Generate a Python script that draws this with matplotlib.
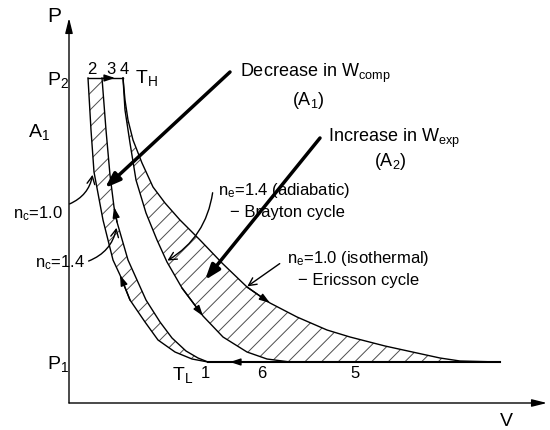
import numpy as np
import matplotlib.pyplot as plt
from matplotlib.patches import Polygon, FancyArrowPatch

plt.rcParams['font.family'] = ['Liberation Sans', 'DejaVu Sans']
plt.rcParams['mathtext.default'] = 'regular'
plt.rcParams['hatch.linewidth'] = 0.7

# pressures and volumes (origin at the axis corner)
P_low, P_high = 41, 325
V1, V2, V3, V4, V6, V5 = 139, 19, 33, 54, 221, 431

# compression, listed from the top (P2) down to point 1
comp_iso_V = [19, 22, 25, 34, 44, 51, 61, 76, 89, 106, 123, 139]
comp_iso_P = [325, 273, 231, 183, 143, 128, 103, 81, 63, 51, 44, 41]
comp_adi_V = [33, 37, 41, 45, 48, 59, 77, 91, 103, 117, 129, 139]
comp_adi_P = [325, 273, 228, 196, 181, 143, 103, 81, 65, 52, 45, 41]

# expansion from point 4 down to P1
exp_adi_V = [54, 56, 61, 67, 77, 88, 98, 113, 134, 154, 178, 198, 221]
exp_adi_P = [325, 293, 260, 223, 190, 163, 141, 115, 87, 66, 51, 44, 41]
exp_iso_V = [54, 56, 59, 64, 73, 84, 96, 111, 131, 153, 178, 201, 228, 258, 281, 316, 348, 371, 391, 431]
exp_iso_P = [325, 303, 283, 263, 240, 216, 200, 183, 163, 140, 116, 100, 86, 73, 66, 57, 50, 45, 42, 41]

fig = plt.figure(figsize=(5.5, 4.3), dpi=100)
ax = fig.add_axes([0, 0, 1, 1])
ax.set_xlim(-69, 481)
ax.set_ylim(-27, 403)
ax.axis('off')

# axes with arrows
ax.annotate('', xy=(0, 385), xytext=(0, 0),
            arrowprops=dict(arrowstyle='-|>,head_length=0.6,head_width=0.15', lw=1, color='k',
                            mutation_scale=15, shrinkA=0, shrinkB=0))
ax.annotate('', xy=(478, 0), xytext=(0, 0),
            arrowprops=dict(arrowstyle='-|>,head_length=0.6,head_width=0.15', lw=1, color='k',
                            mutation_scale=15, shrinkA=0, shrinkB=0))

# hatched areas
comp_poly = list(zip(comp_iso_V, comp_iso_P)) + list(zip(comp_adi_V[::-1], comp_adi_P[::-1]))
ax.add_patch(Polygon(comp_poly, closed=True, fill=False, hatch='//', edgecolor='0.3', lw=0))
exp_poly = list(zip(exp_adi_V, exp_adi_P)) + list(zip(exp_iso_V[::-1], exp_iso_P[::-1]))
ax.add_patch(Polygon(exp_poly, closed=True, fill=False, hatch='//', edgecolor='0.3', lw=0))

# cycle lines
for V, P in [(comp_iso_V, comp_iso_P), (comp_adi_V, comp_adi_P),
             (exp_adi_V, exp_adi_P), (exp_iso_V, exp_iso_P)]:
    ax.plot(V, P, color='k', lw=1)
ax.plot([V2, V4], [P_high, P_high], color='k', lw=1)
ax.plot([V1, V5], [P_low, P_low], color='k', lw=1.5)

head = dict(arrowstyle='-|>,head_length=0.45,head_width=0.15', lw=1, color='k',
            mutation_scale=14, shrinkA=0, shrinkB=0)
def arrow_at(V, P, i, j):
    ax.annotate('', xy=(V[i], P[i]), xytext=(V[j], P[j]), arrowprops=head)

arrow_at(comp_iso_V, comp_iso_P, 5, 6)
arrow_at(comp_adi_V, comp_adi_P, 3, 4)
arrow_at(exp_adi_V, exp_adi_P, 8, 7)
arrow_at(exp_iso_V, exp_iso_P, 11, 10)
ax.annotate('', xy=(46, P_high), xytext=(35, P_high), arrowprops=head)
ax.annotate('', xy=(161, P_low), xytext=(175, P_low), arrowprops=head)

# labels
ax.text(-15, 386, 'P', fontsize=15, ha='center', va='center')
ax.text(437, -19, 'V', fontsize=14, ha='center', va='center')
ax.text(-22, 318, 'P$_2$', fontsize=14, va='baseline')
ax.text(-22, 34, 'P$_1$', fontsize=14, va='baseline')
ax.text(-41, 266, 'A$_1$', fontsize=14, va='baseline')
for s, v in [('2', 23), ('3', 42), ('4', 55)]:
    ax.text(v, 333, s, fontsize=12, ha='center', va='center')
for s, v in [('1', 136), ('6', 193), ('5', 286)]:
    ax.text(v, 29, s, fontsize=12, ha='center', va='center')
ax.text(66, 320, 'T$_H$', fontsize=14, va='baseline')
ax.text(103, 23, 'T$_L$', fontsize=14, va='baseline')

ax.text(171, 326, 'Decrease in W$_{comp}$', fontsize=13, va='baseline')
ax.text(239, 298, '(A$_1$)', fontsize=13, ha='center', va='baseline')
ax.text(259, 261, 'Increase in W$_{exp}$', fontsize=13, va='baseline')
ax.text(321, 237, '(A$_2$)', fontsize=13, ha='center', va='baseline')
ax.text(149, 208, 'n$_e$=1.4 (adiabatic)', fontsize=12, va='baseline')
ax.text(161, 186, '\u2212 Brayton cycle', fontsize=12, va='baseline')
ax.text(218, 140, 'n$_e$=1.0 (isothermal)', fontsize=12, va='baseline')
ax.text(229, 118, '\u2212 Ericsson cycle', fontsize=12, va='baseline')
ax.text(-56, 185, 'n$_c$=1.0', fontsize=12, va='baseline')
ax.text(-34, 136, 'n$_c$=1.4', fontsize=12, va='baseline')

thin = dict(arrowstyle='->,head_length=0.4,head_width=0.2', lw=1, color='k', mutation_scale=14)
ax.add_patch(FancyArrowPatch((-2, 198), (24, 231), connectionstyle='arc3,rad=0.3', **thin))
ax.add_patch(FancyArrowPatch((17, 141), (48, 178), connectionstyle='arc3,rad=0.3', **thin))
ax.add_patch(FancyArrowPatch((144, 213), (96, 141), connectionstyle='arc3,rad=-0.25', **thin))
ax.add_patch(FancyArrowPatch((213, 141), (176, 115), **thin))

thick = dict(arrowstyle='-|>,head_length=0.45,head_width=0.16', lw=2.5, color='k',
             mutation_scale=20, shrinkA=0, shrinkB=0)
ax.annotate('', xy=(36, 215), xytext=(161, 331), arrowprops=thick)
ax.annotate('', xy=(136, 123), xytext=(251, 265), arrowprops=thick)

fig.savefig('out.png', dpi=100)
